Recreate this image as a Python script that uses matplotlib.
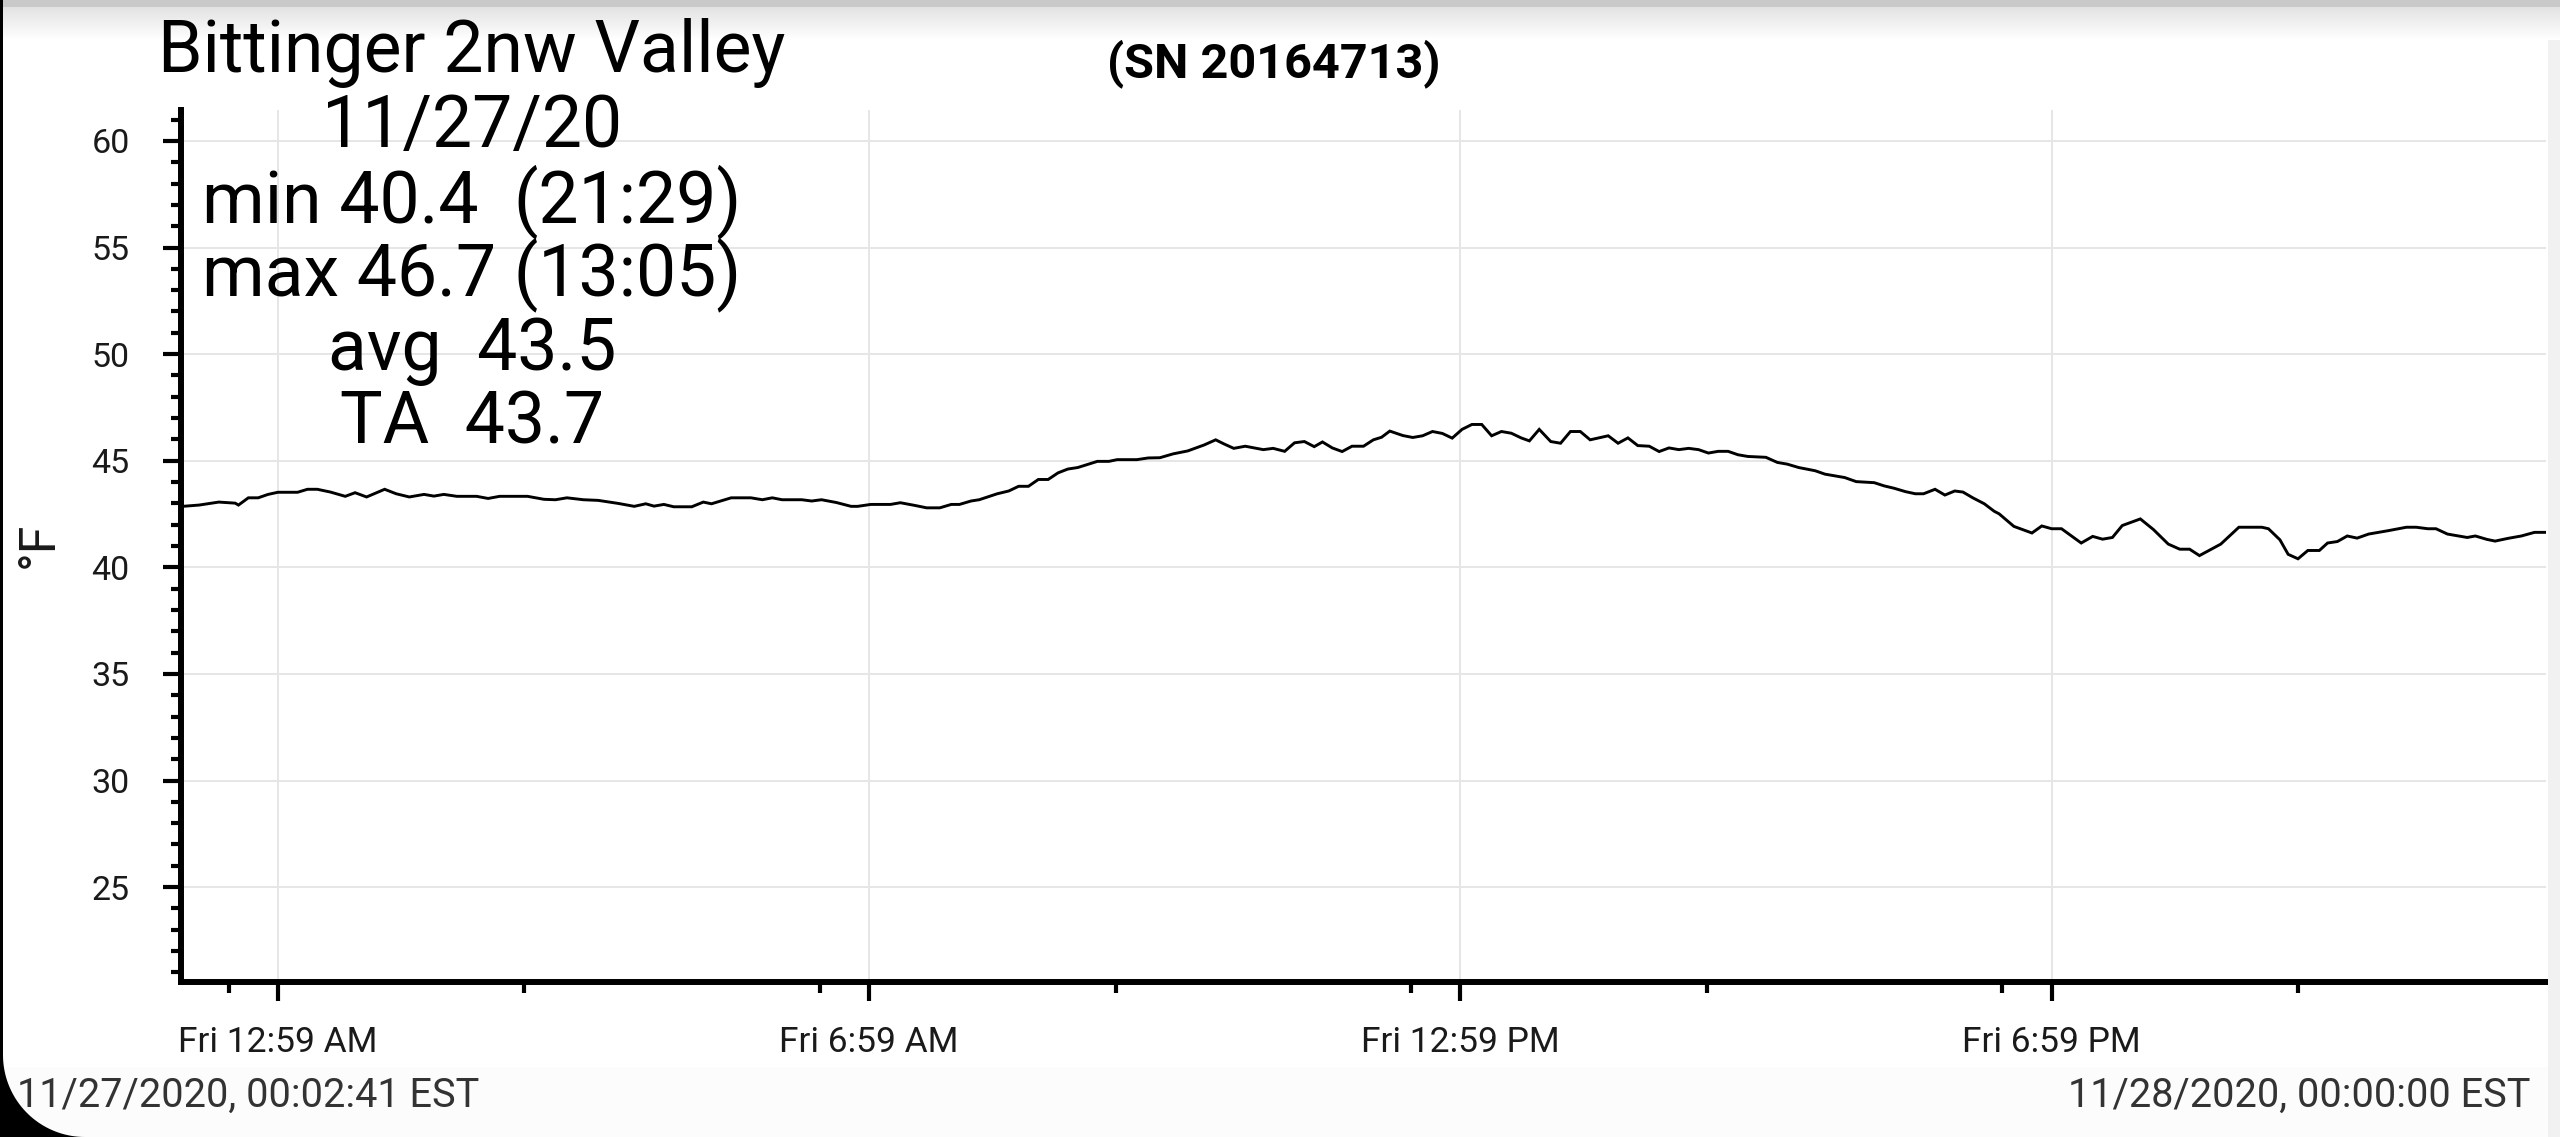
import numpy as np
import matplotlib
matplotlib.use("Agg")
import matplotlib.pyplot as plt
from matplotlib.patches import Rectangle, Polygon

plt.rcParams['font.family'] = ['Roboto', 'DejaVu Sans']

# ---------------- data ----------------
station = "Bittinger 2nw Valley"
date_label = "11/27/20"
serial = "(SN 20164713)"
stats_lines = ["min 40.4  (21:29)", "max 46.7 (13:05)", "avg  43.5", "TA  43.7"]
start_label = "11/27/2020, 00:02:41 EST"
end_label = "11/28/2020, 00:00:00 EST"
x_start = "00:00"
x_end = "24:00"
ylabel = "°F"

times = [
    # 00:00 - 06:10
    "00:02:41", "00:11", "00:23", "00:33", "00:35", "00:41", "00:47", "00:53", "00:59",
    "01:11", "01:17", "01:23", "01:31", "01:40", "01:46", "01:53",
    "02:04", "02:11", "02:19", "02:28", "02:34", "02:40", "02:48",
    "03:00", "03:07", "03:14", "03:31", "03:41", "03:48", "03:55",
    "04:05", "04:14", "04:26", "04:36", "04:43", "04:48", "04:54",
    "05:00", "05:11", "05:18", "05:23", "05:35", "05:47", "05:54",
    "06:00", "06:06",
    # 06:10 - 12:15
    "06:18", "06:24", "06:30", "06:39", "06:48", "06:52", "07:00", "07:12", "07:18", "07:27",
    "07:34", "07:42", "07:49", "07:54", "08:01", "08:06", "08:17", "08:24", "08:30", "08:36",
    "08:42", "08:48", "08:54", "09:00", "09:06", "09:18", "09:25", "09:30", "09:42", "09:49",
    "09:56", "10:04", "10:13", "10:23", "10:30", "10:35", "10:41", "10:48", "10:59", "11:05",
    "11:12", "11:18", "11:24", "11:30", "11:35", "11:41", "11:47", "11:53", "12:00", "12:06",
    "12:11",
    # 12:15 - 18:25
    "12:16", "12:24", "12:30", "12:36", "12:42", "12:48", "12:54", "13:00", "13:06", "13:12",
    "13:18", "13:24", "13:30", "13:36", "13:41", "13:47", "13:54", "14:00", "14:06", "14:12",
    "14:18", "14:29", "14:35", "14:41", "14:47", "14:54", "15:00", "15:06", "15:12", "15:18",
    "15:24", "15:30", "15:36", "15:42", "15:48", "15:54", "16:05", "16:12", "16:18", "16:25",
    "16:35", "16:41", "16:53", "17:00", "17:11", "17:17", "17:23", "17:30", "17:36", "17:41",
    "17:48", "17:54", "18:00", "18:05", "18:11", "18:18", "18:24",
    # 18:25 - 24:00
    "18:27", "18:36", "18:47", "18:53", "18:59", "19:05", "19:17", "19:24", "19:30", "19:36",
    "19:42", "19:53", "20:01", "20:10", "20:17", "20:23", "20:29", "20:42", "20:53", "21:07",
    "21:11", "21:18", "21:23", "21:29", "21:35", "21:42", "21:47", "21:53", "21:59", "22:05",
    "22:12", "22:24", "22:35", "22:41", "22:48", "22:53", "23:00", "23:12", "23:17", "23:24",
    "23:29", "23:37", "23:45", "23:53", "24:00",
]

temps = [
    # 00:00 - 06:10
    42.87, 42.92, 43.06, 43.01, 42.92, 43.26, 43.26, 43.42, 43.52,
    43.52, 43.66, 43.66, 43.53, 43.33, 43.50, 43.30,
    43.66, 43.45, 43.30, 43.42, 43.34, 43.42, 43.33,
    43.33, 43.23, 43.33, 43.33, 43.19, 43.17, 43.26,
    43.17, 43.14, 43.00, 42.86, 42.98, 42.87, 42.95,
    42.84, 42.84, 43.06, 42.98, 43.26, 43.26, 43.17,
    43.26, 43.17,
    # 06:10 - 12:15
    43.17, 43.11, 43.17, 43.04, 42.86, 42.86, 42.95, 42.95, 43.03, 42.90,
    42.79, 42.79, 42.95, 42.95, 43.11, 43.17, 43.45, 43.58, 43.80, 43.80,
    44.12, 44.12, 44.43, 44.61, 44.68, 44.97, 44.97, 45.05, 45.05, 45.13,
    45.14, 45.32, 45.46, 45.74, 45.98, 45.79, 45.58, 45.68, 45.52, 45.58,
    45.44, 45.84, 45.90, 45.66, 45.88, 45.60, 45.43, 45.68, 45.68, 45.98,
    46.10,
    # 12:15 - 18:25
    46.39, 46.18, 46.09, 46.17, 46.37, 46.28, 46.06, 46.47, 46.70, 46.70,
    46.17, 46.37, 46.29, 46.07, 45.93, 46.47, 45.90, 45.82, 46.37, 46.37,
    45.98, 46.17, 45.82, 46.07, 45.71, 45.68, 45.43, 45.60, 45.52, 45.58,
    45.52, 45.36, 45.44, 45.44, 45.28, 45.20, 45.16, 44.92, 44.84, 44.68,
    44.53, 44.37, 44.21, 44.02, 43.97, 43.82, 43.71, 43.55, 43.45, 43.45,
    43.66, 43.39, 43.58, 43.53, 43.26, 42.98, 42.63,
    # 18:25 - 24:00
    42.51, 41.92, 41.61, 41.94, 41.81, 41.81, 41.14, 41.45, 41.32, 41.40,
    41.96, 42.27, 41.77, 41.09, 40.85, 40.85, 40.55, 41.09, 41.88, 41.88,
    41.81, 41.29, 40.61, 40.40, 40.79, 40.79, 41.14, 41.21, 41.47, 41.37,
    41.56, 41.72, 41.88, 41.88, 41.81, 41.81, 41.56, 41.40, 41.47, 41.31,
    41.23, 41.36, 41.47, 41.64, 41.64,
]

major_tick_times = ["00:59", "06:59", "12:59", "18:59"]
major_tick_labels = ["Fri 12:59 AM", "Fri 6:59 AM", "Fri 12:59 PM", "Fri 6:59 PM"]
minor_tick_times = ["00:29", "03:29", "06:29", "09:29", "12:29", "15:29", "18:29", "21:29"]
y_major = [25, 30, 35, 40, 45, 50, 55, 60]
y_minor = list(range(21, 62))
y_range = (20.55, 61.45)

assert len(times) == len(temps)


def to_hours(s):
    parts = [int(p) for p in s.split(":")]
    while len(parts) < 3:
        parts.append(0)
    return parts[0] + parts[1] / 60 + parts[2] / 3600


hours = [to_hours(t) for t in times]

# ---------------- figure ----------------
W, H = 2560, 1137
fig = plt.figure(figsize=(W / 100, H / 100), dpi=100)
fig.patch.set_facecolor("white")

ax = fig.add_axes([181 / W, (H - 982) / H, (2546 - 181) / W, (982 - 110) / H])
ax.plot(hours, temps, color="black", linewidth=2.1, zorder=3, solid_joinstyle="miter")
ax.set_xlim(to_hours(x_start), to_hours(x_end))
ax.set_ylim(*y_range)

ax.set_xticks([to_hours(t) for t in major_tick_times])
ax.set_xticklabels(major_tick_labels)
ax.set_xticks([to_hours(t) for t in minor_tick_times], minor=True)
ax.set_yticks(y_major)
ax.set_yticklabels([str(v) for v in y_major])
ax.set_yticks(y_minor, minor=True)

ax.grid(True, which="major", color="#e6e6e6", linewidth=1.4, zorder=0)
ax.set_axisbelow(True)

for side in ("top", "right"):
    ax.spines[side].set_visible(False)
for side in ("left", "bottom"):
    ax.spines[side].set_linewidth(4.3)
    ax.spines[side].set_color("black")

ax.tick_params(axis="y", which="major", direction="out", length=13, width=3,
               labelsize=24.5, pad=24, labelcolor="#1a1a1a")
ax.tick_params(axis="y", which="minor", direction="out", length=7, width=3)
ax.tick_params(axis="x", which="major", direction="out", length=14, width=3,
               labelsize=25.5, pad=17.5, labelcolor="#1a1a1a")
ax.tick_params(axis="x", which="minor", direction="out", length=8, width=3)

fig.text(39 / W, 1 - 545 / H, ylabel, rotation=90, ha="center", va="center",
         fontsize=36, color="#1a1a1a")

# header texts
fig.text(472 / W, 1 - 72 / H, station, ha="center", va="baseline", fontsize=51.5, color="black")
baselines = [147, 222, 295, 370, 443]
for txt, b in zip([date_label] + stats_lines, baselines):
    fig.text(472 / W, 1 - b / H, txt, ha="center", va="baseline", fontsize=51.5, color="black")
fig.text(1274 / W, 1 - 77 / H, serial, ha="center", va="baseline", fontsize=35,
         fontweight="bold", color="black")

fig.text(17 / W, 1 - 1107 / H, start_label, ha="left", va="baseline", fontsize=28.5, color="#333333")
fig.text(2530 / W, 1 - 1107 / H, end_label, ha="right", va="baseline", fontsize=28.5, color="#333333")

# ---------------- screenshot frame decorations ----------------
ov = fig.add_axes([0, 0, 1, 1], zorder=2)
ov.set_xlim(0, W)
ov.set_ylim(H, 0)
ov.axis("off")
ov.patch.set_alpha(0)

grad_px = 40
g = np.ones(grad_px)
g[:7] = 0.79
g[7:] = np.linspace(0.89, 1.0, grad_px - 7)
img = np.dstack([g, g, g]).reshape(grad_px, 1, 3)
ov.imshow(img, extent=(0, W, grad_px, 0), aspect="auto", interpolation="bilinear", zorder=1)

ov.add_patch(Rectangle((0, 1067), W, H - 1067, facecolor="#fcfcfc", edgecolor="none", zorder=1))
ov.add_patch(Rectangle((2548, grad_px), W - 2548, H - grad_px, facecolor="#f1f1f1",
                       edgecolor="none", zorder=1))
ov.add_patch(Rectangle((0, 0), 3, H, facecolor="black", edgecolor="none", zorder=4))
r = 82
cx, cy = 3 + r, H - r
t = np.linspace(0, np.pi / 2, 40)
arc = np.column_stack([cx - r * np.sin(t), cy + r * np.cos(t)])
corner = np.vstack([[[0, H]], arc, [[0, cy]]])
ov.add_patch(Polygon(corner, closed=True, facecolor="black", edgecolor="none", zorder=4))
ov.set_xlim(0, W)
ov.set_ylim(H, 0)

fig.savefig("out.png", dpi=100)
